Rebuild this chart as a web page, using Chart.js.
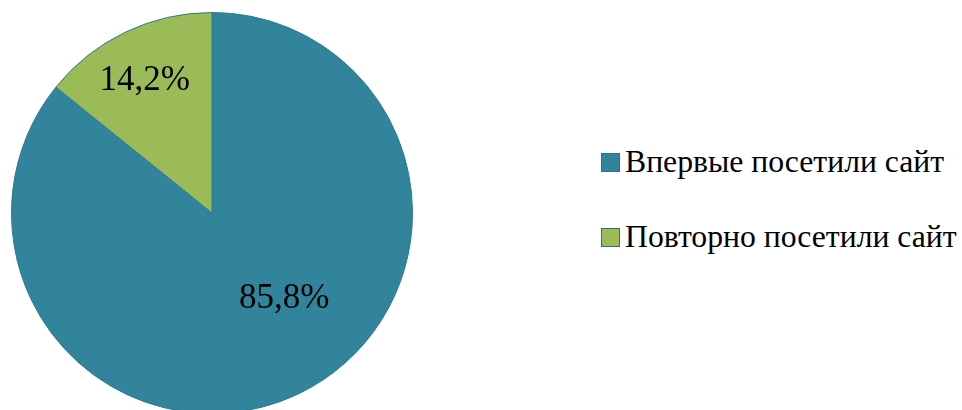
<!DOCTYPE html>
<html>
<head>
<meta charset="utf-8">
<script src="https://cdn.jsdelivr.net/npm/chart.js@4.4.1/dist/chart.umd.min.js"></script>
<style>
  html, body { margin: 0; padding: 0; background: #fff; overflow: hidden; }
  #wrap { position: relative; width: 962px; height: 410px; overflow: hidden; }
  #pieBox { position: absolute; left: 0; top: 0; width: 424px; height: 426px; }
  #legend { position: absolute; left: 601px; top: 144px; font-family: "Liberation Serif", "Times New Roman", serif; font-size: 31.7px; color: #000; }
  .item { display: flex; align-items: center; height: 36px; line-height: 36px; margin-bottom: 39px; white-space: nowrap; }
  .box { width: 19px; height: 19px; box-sizing: border-box; border: 1px solid #2a7386; margin-right: 5px; }
</style>
</head>
<body>
<div id="wrap">
  <div id="pieBox"><canvas id="myChart"></canvas></div>
  <div id="legend"></div>
</div>
<script>
//chart data
const categories = ['Впервые посетили сайт', 'Повторно посетили сайт'];
const shares = [85.8, 14.2];
const sliceColors = ['#31849b', '#9bbb59'];
//where the % label sits inside each slice (fraction of radius, angle in degrees, 0 = right, clockwise)
const labelSpots = [{r: 0.56, a: 50}, {r: 0.74, a: 243}];

//small plugin to print the percent labels, no datalabels plugin here
const pctLabels = {
  id: 'pctLabels',
  afterDatasetsDraw(chart) {
    const c = chart.ctx;
    const meta = chart.getDatasetMeta(0);
    c.save();
    c.font = '35px "Liberation Serif", "Times New Roman", serif';
    c.fillStyle = '#000';
    c.textAlign = 'center';
    c.textBaseline = 'middle';
    meta.data.forEach((arc, i) => {
      const spot = labelSpots[i];
      const rad = spot.a * Math.PI / 180;
      const x = arc.x + Math.cos(rad) * arc.outerRadius * spot.r;
      const y = arc.y + Math.sin(rad) * arc.outerRadius * spot.r;
      c.fillText(shares[i].toFixed(1).replace('.', ',') + '%', x, y);
    });
    c.restore();
  }
};

const ctx = document.getElementById('myChart');
const chart1 = new Chart(ctx, {
  type: 'pie',
  data: {
    labels: categories,
    datasets: [{
      data: shares,
      backgroundColor: sliceColors,
      borderColor: '#2c7a8f',
      borderWidth: 1
    }]
  },
  options: {
    responsive: true,
    maintainAspectRatio: false,
    animation: false,
    layout: { padding: 11 },
    plugins: {
      legend: { display: false },
      tooltip: { enabled: false }
    }
  },
  plugins: [pctLabels]
});

//html legend built from the same arrays
const legend = document.getElementById('legend');
categories.forEach((name, i) => {
  const row = document.createElement('div');
  row.className = 'item';
  const box = document.createElement('span');
  box.className = 'box';
  box.style.background = sliceColors[i];
  const txt = document.createElement('span');
  txt.textContent = name;
  row.appendChild(box);
  row.appendChild(txt);
  legend.appendChild(row);
});
</script>
</body>
</html>
